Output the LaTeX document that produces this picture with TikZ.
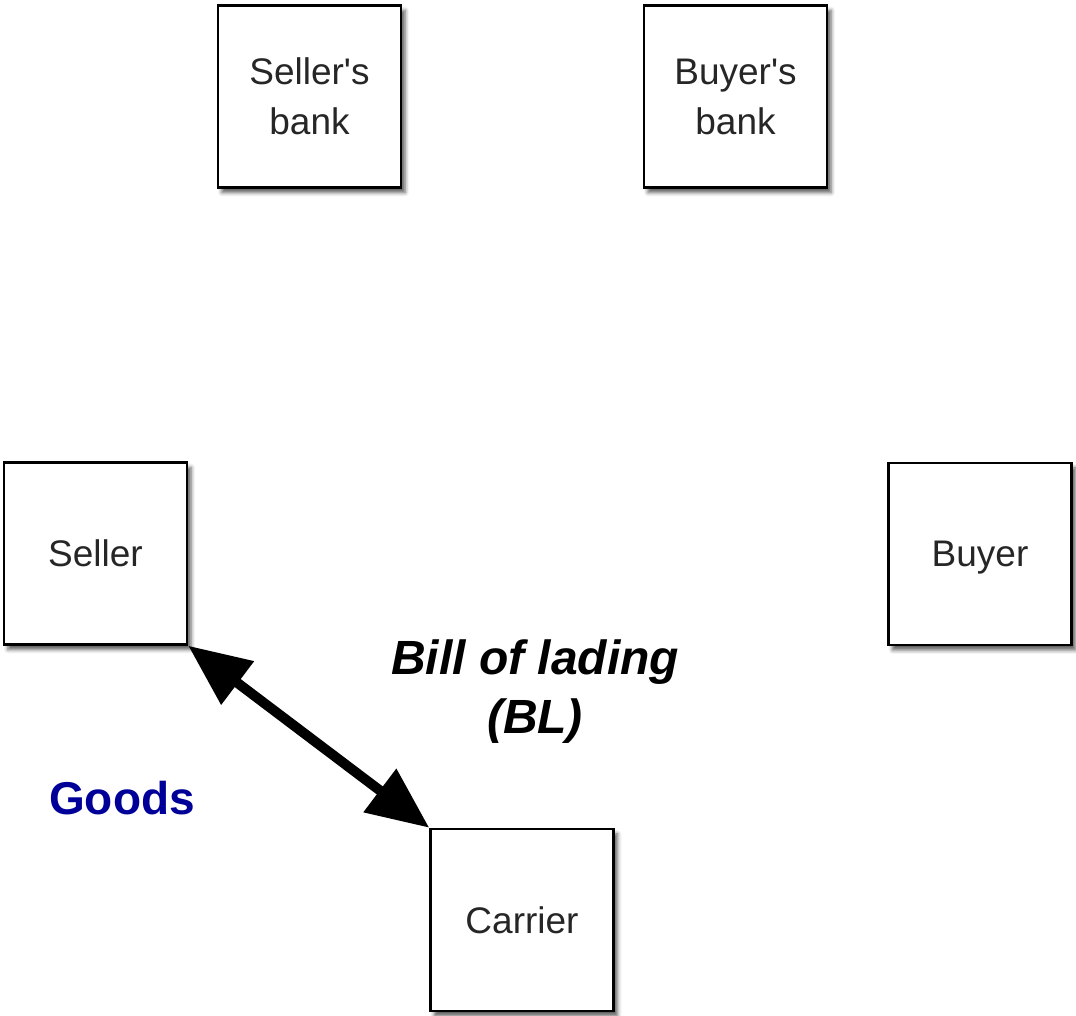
\documentclass[tikz,border=0pt]{standalone}
\usepackage{fontspec}
\setmainfont{Liberation Sans}
\usetikzlibrary{arrows.meta,shadows.blur}
\definecolor{boxtext}{HTML}{262626}
\definecolor{goodsblue}{HTML}{000099}
\begin{document}
\begin{tikzpicture}[x=1pt,y=1pt,
  party/.style={draw=black, line width=2.4pt, fill=white, minimum width=183pt,
    minimum height=182pt, inner sep=0pt, align=center, text=boxtext,
    font=\fontsize{37}{50}\selectfont,
    blur shadow={shadow xshift=4pt, shadow yshift=-5pt, shadow blur radius=4pt,
      shadow opacity=65}},
  flow/.style={line width=10pt, {Triangle[length=62pt,width=52pt]}-{Triangle[length=62pt,width=52pt]}},
  label/.style={align=center}
]
\useasboundingbox (0,0) rectangle (1076,1016);
% parties and banks (centres, y measured upwards)
\node[party] (sbank)   at (309.5,919.5) {Seller\textquotesingle s\\bank};
\node[party] (bbank)   at (735.5,919.5) {Buyer\textquotesingle s\\bank};
\node[party] (seller)  at (95.5,462.5)  {Seller};
\node[party, text depth=0pt] (buyer) at (980,462) {Buyer};
\node[party] (carrier) at (522,96)      {Carrier};
% physical exchange between seller and carrier
\draw[flow] (seller.south east) -- (carrier.north west);
\node[label, font=\fontsize{48}{59}\selectfont\bfseries\itshape] (bl) at (535,324) {Bill of lading\\(BL)};
\node[label, text=goodsblue, font=\fontsize{46}{56}\selectfont\bfseries] (goods) at (122,218) {Goods};
\end{tikzpicture}
\end{document}
